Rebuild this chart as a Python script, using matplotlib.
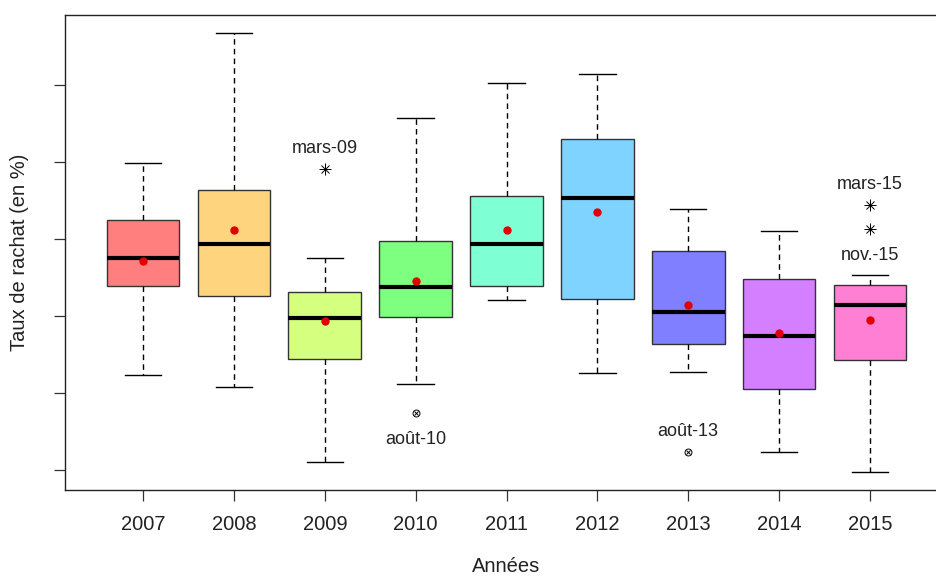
import matplotlib
matplotlib.use("Agg")
import matplotlib.pyplot as plt

plt.rcParams['font.family'] = ['Liberation Sans', 'DejaVu Sans']

# Values (arbitrary units, y tick step = 1)
annees = ["2007", "2008", "2009", "2010", "2011", "2012", "2013", "2014", "2015"]
whis_hi = [3.99, 5.68, 2.75, 4.57, 5.03, 5.14, 3.39, 3.10, 2.53]
q3 = [3.25, 3.64, 2.31, 2.97, 3.56, 4.30, 2.84, 2.48, 2.40]
mediane = [2.75, 2.94, 1.97, 2.38, 2.94, 3.53, 2.05, 1.74, 2.14]
q1 = [2.39, 2.26, 1.44, 1.99, 2.39, 2.22, 1.64, 1.05, 1.43]
whis_lo = [1.23, 1.08, 0.10, 1.12, 2.21, 1.26, 1.27, 0.23, -0.03]
moyenne = [2.71, 3.12, 1.94, 2.46, 3.12, 3.35, 2.14, 1.78, 1.95]

# outliers: box index, value, label, symbol, label side
out_idx = [2, 3, 6, 8, 8]
out_val = [3.91, 0.74, 0.23, 3.44, 3.13]
out_lab = ["mars-09", "août-10", "août-13", "mars-15", "nov.-15"]
out_sym = ["ast", "otimes", "otimes", "ast", "ast"]
out_side = ["up", "down", "up", "up", "down"]

couleurs = ["#FF7F7F", "#FFD47F", "#D4FF7F", "#7FFF7F", "#7FFFD4",
            "#7FD4FF", "#7F7FFF", "#D47FFF", "#FF7FD4"]

fig = plt.figure(figsize=(9.36, 5.78), dpi=100)
ax = fig.add_axes([65 / 936, 88 / 578, (948 - 65) / 936, (490 - 15) / 578])

pos = list(range(1, len(annees) + 1))
stats = []
for i in range(len(annees)):
    stats.append(dict(med=mediane[i], q1=q1[i], q3=q3[i],
                      whislo=whis_lo[i], whishi=whis_hi[i], fliers=[]))

bp = ax.bxp(stats, positions=pos, widths=0.8, patch_artist=True,
            showfliers=False, capwidths=0.4,
            boxprops=dict(edgecolor="#333333", linewidth=1),
            medianprops=dict(color="black", linewidth=3, solid_capstyle="butt"),
            whiskerprops=dict(color="black", linewidth=1, linestyle=(0, (4, 3))),
            capprops=dict(color="black", linewidth=1))
for patch, c in zip(bp["boxes"], couleurs):
    patch.set_facecolor(c)

ax.plot(pos, moyenne, "o", color="#E00000", markersize=5, zorder=5)

for i, v, lab, sym, side in zip(out_idx, out_val, out_lab, out_sym, out_side):
    x = pos[i]
    if sym == "ast":
        ax.plot(x, v, marker="+", color="black", markersize=8, mew=0.7)
        ax.plot(x, v, marker="x", color="black", markersize=6, mew=0.7)
    else:
        ax.plot(x, v, marker="o", mfc="none", mec="black", markersize=5, mew=0.7)
        ax.plot(x, v, marker="x", color="black", markersize=3.5, mew=0.7)
    dy = 15 if side == "up" else -19
    ax.annotate(lab, (x, v), xytext=(0, dy), textcoords="offset points",
                ha="center", va="center", fontsize=13, color="#222222")

ax.set_xlim(0.14, 9.86)
ax.set_ylim(-0.26, 5.91)
ax.set_xticks(pos)
ax.set_xticklabels(annees, fontsize=14.5, color="#222222")
ax.set_yticks([0, 1, 2, 3, 4, 5])
ax.set_yticklabels([])
ax.tick_params(axis="both", length=8, width=0.9, color="#333333")
ax.tick_params(axis="x", pad=10)
for s in ax.spines.values():
    s.set_linewidth(1)
    s.set_color("#222222")

fig.text(506.5 / 936, 1 - 566 / 578, "Années", ha="center", va="center",
         fontsize=14.5, color="#222222")
fig.text(20 / 936, 1 - 252 / 578, "Taux de rachat (en %)", ha="center",
         va="center", rotation=90, fontsize=14.5, color="#222222")

fig.savefig("out.png", dpi=100)
